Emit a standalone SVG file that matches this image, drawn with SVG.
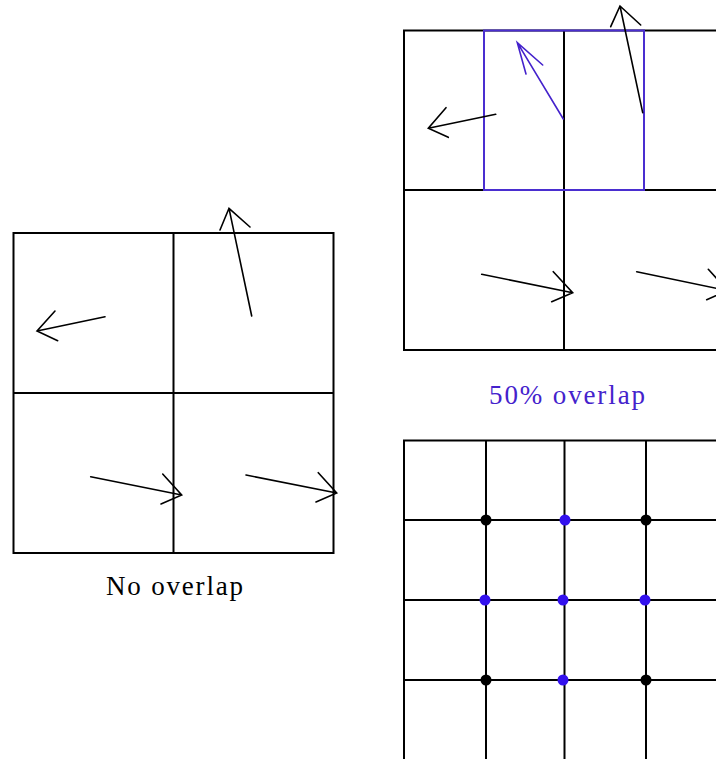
<svg xmlns="http://www.w3.org/2000/svg" width="716" height="759" viewBox="0 0 716 759">
<style>
.grid{fill:none;stroke:#000;stroke-width:2}
.arr{fill:none;stroke:#000;stroke-width:1.6;stroke-linecap:round}
.barr{fill:none;stroke:#4422cc;stroke-width:1.6;stroke-linecap:round}
.brect{fill:none;stroke:#4a2ed0;stroke-width:2}
.lbl{font-family:"Liberation Serif","DejaVu Serif",serif;font-size:27px}
.bd{fill:#000}
.bl{fill:#3311ee}
</style>
<rect width="716" height="759" fill="#fff"/>
<g id="no-overlap">
<rect class="grid" x="13.5" y="233" width="320" height="320"/>
<line class="grid" x1="173.5" y1="233" x2="173.5" y2="553"/>
<line class="grid" x1="13.5" y1="393" x2="333.5" y2="393"/>
<text class="lbl" x="106" y="595" textLength="137" lengthAdjust="spacing">No overlap</text>
</g>
<g id="overlap-50">
<rect class="grid" x="404" y="30.5" width="320" height="319.5"/>
<line class="grid" x1="564" y1="30.5" x2="564" y2="350"/>
<line class="grid" x1="404" y1="190" x2="724" y2="190"/>
<rect class="brect" x="484" y="30.5" width="160" height="159.5"/>
<text class="lbl" x="489" y="404" textLength="156" lengthAdjust="spacing" fill="#4422cc">50% overlap</text>
</g>
<g id="dense-grid">
<rect class="grid" x="404" y="440.5" width="320" height="330"/>
<line class="grid" x1="486" y1="440.5" x2="486" y2="770"/>
<line class="grid" x1="564.5" y1="440.5" x2="564.5" y2="770"/>
<line class="grid" x1="646" y1="440.5" x2="646" y2="770"/>
<line class="grid" x1="404" y1="520" x2="724" y2="520"/>
<line class="grid" x1="404" y1="600" x2="724" y2="600"/>
<line class="grid" x1="404" y1="680" x2="724" y2="680"/>
<circle class="bd" cx="486" cy="520" r="5.5"/>
<circle class="bl" cx="565" cy="520" r="5.5"/>
<circle class="bd" cx="646" cy="520" r="5.5"/>
<circle class="bl" cx="485" cy="600" r="5.5"/>
<circle class="bl" cx="563" cy="600" r="5.5"/>
<circle class="bl" cx="645" cy="600" r="5.5"/>
<circle class="bd" cx="486" cy="680" r="5.5"/>
<circle class="bl" cx="563" cy="680" r="5.5"/>
<circle class="bd" cx="646" cy="680" r="5.5"/>
</g>
<g id="connectors">
<path class="arr" d="M105 316.7 L37 331 M55 311 L37 331 L57.7 340.7"/>
<path class="arr" d="M251.7 316 L229 208.3 M220 230 L229 208.3 L250 227"/>
<path class="arr" d="M90.7 476.7 L181.7 495 M162.7 474 L181.7 495 L161 504"/>
<path class="arr" d="M246 475 L336.7 493 M318.3 472.7 L336.7 493 L316 502"/>
<path class="arr" d="M495.7 114.3 L428.3 128.3 M446 107.7 L428.3 128.3 L448.3 137.3"/>
<path class="barr" d="M563.3 119 L517.3 42.7 M526 74 L517.3 42.7 L542.7 65"/>
<path class="arr" d="M642.7 112.7 L620 6 M610.7 26.7 L620 6 L640.7 25"/>
<path class="arr" d="M481.7 274.3 L572.7 292.7 M553.3 271.7 L572.7 292.7 L551.7 301.7"/>
<path class="arr" d="M636.7 271.7 L727.7 290.7 M708.3 269.3 L727.7 290.7 L706.7 299.7"/>
</g>
</svg>
